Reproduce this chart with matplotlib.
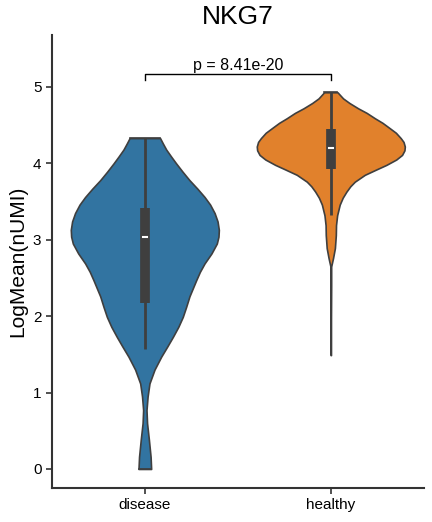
import matplotlib
matplotlib.use("Agg")
import matplotlib.pyplot as plt
import numpy as np

plt.rcParams['font.family'] = ['Liberation Sans', 'DejaVu Sans']

groups = ["disease", "healthy"]
colors = ["#3274a1", "#e1812c"]

# violin outlines: y value and half width (data units of x)
disease_y = [0.00, 0.16, 0.38, 0.60, 0.77, 0.95, 1.12, 1.30, 1.47, 1.60, 1.73, 1.86, 1.99,
             2.12, 2.26, 2.47, 2.58, 2.69, 2.82, 2.95, 3.04, 3.13, 3.24, 3.35, 3.46, 3.56,
             3.67, 3.78, 3.89, 4.00, 4.09, 4.18, 4.26, 4.33]
disease_w = [0.034, 0.031, 0.022, 0.012, 0.009, 0.015, 0.025, 0.052, 0.088, 0.120, 0.151, 0.180, 0.204,
             0.222, 0.240, 0.276, 0.296, 0.321, 0.358, 0.387, 0.396, 0.398, 0.391, 0.375, 0.351, 0.321,
             0.282, 0.240, 0.203, 0.168, 0.141, 0.115, 0.097, 0.082]
healthy_y = [1.49, 1.97, 2.41, 2.65, 2.76, 2.89, 3.06, 3.19, 3.32, 3.46, 3.55, 3.63,
             3.70, 3.76, 3.85, 3.92, 3.98, 4.05, 4.11, 4.17, 4.22, 4.28, 4.33, 4.40,
             4.46, 4.53, 4.59, 4.66, 4.72, 4.79, 4.85, 4.93]
healthy_w = [0.001, 0.001, 0.002, 0.002, 0.012, 0.022, 0.027, 0.028, 0.034, 0.048, 0.064, 0.084,
             0.105, 0.129, 0.183, 0.245, 0.299, 0.352, 0.383, 0.396, 0.398, 0.391, 0.376, 0.350,
             0.317, 0.278, 0.237, 0.193, 0.147, 0.100, 0.066, 0.036]

# inner box: whisker low, q1, median, q3, whisker high
disease_box = [1.57, 2.17, 3.04, 3.41, 4.33]
healthy_box = [3.33, 3.93, 4.20, 4.45, 4.93]

p_text = "p = 8.41e-20"
bracket_y = 5.17
bracket_tick = 5.09

fig = plt.figure(figsize=(4.32, 5.22), dpi=100)
ax = fig.add_axes([0.12, 0.065, 0.861, 0.868])

edge = "#3f3f3f"
profiles = [(disease_y, disease_w, disease_box), (healthy_y, healthy_w, healthy_box)]
for i, (ys, ws, box) in enumerate(profiles):
    ys = np.array(ys)
    ws = np.array(ws)
    ax.fill_betweenx(ys, i - ws, i + ws, facecolor=colors[i], edgecolor=edge,
                     linewidth=1.2, zorder=1)
    ax.plot([i - ws[0], i + ws[0]], [ys[0], ys[0]], color=edge, lw=1.2, zorder=2)
    ax.plot([i - ws[-1], i + ws[-1]], [ys[-1], ys[-1]], color=edge, lw=1.2, zorder=2)
    ax.plot([i, i], [box[0], box[4]], color=edge, lw=2.0, solid_capstyle="butt", zorder=3)
    ax.plot([i, i], [box[1], box[3]], color=edge, lw=7, solid_capstyle="butt", zorder=3)
    ax.plot([i - 0.012, i + 0.012], [box[2], box[2]], color="white", lw=1.5, zorder=4)

ax.plot([0, 0, 1, 1], [bracket_tick, bracket_y, bracket_y, bracket_tick],
        color="black", lw=1.0)
ax.text(0.5, bracket_y + 0.01, p_text, ha="center", va="bottom", fontsize=11.5)

ax.set_xlim(-0.5, 1.5)
ax.set_ylim(-0.25, 5.68)
ax.set_xticks([0, 1])
ax.set_xticklabels(groups)
ax.set_yticks([0, 1, 2, 3, 4, 5])
ax.tick_params(labelsize=11, color="#333333", length=4, width=1.2)
ax.set_ylabel("LogMean(nUMI)", fontsize=15)
ax.set_title("NKG7", fontsize=19, pad=8)
for s in ["top", "right"]:
    ax.spines[s].set_visible(False)
for s in ["left", "bottom"]:
    ax.spines[s].set_color("#333333")
    ax.spines[s].set_linewidth(1.5)

fig.savefig("out.png", dpi=100)
